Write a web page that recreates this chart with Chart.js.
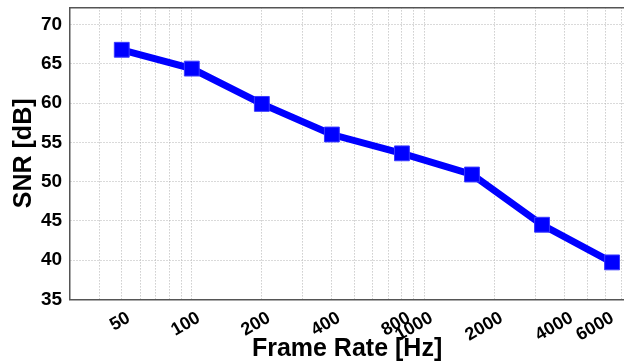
<!DOCTYPE html>
<html>
<head>
<meta charset="utf-8">
<script src="https://cdn.jsdelivr.net/npm/chart.js@4/dist/chart.umd.min.js"></script>
<style>
  body { margin: 0; background: #fff; }
  /* el grafico original esta recortado arriba y a la derecha */
  #wrap { width: 624px; height: 362px; overflow: hidden; position: relative; }
  #grafico { position: absolute; left: 0; top: -12px; }
</style>
</head>
<body>
<div id="wrap"><canvas id="grafico" width="640" height="374"></canvas></div>
<script>
// datos
var frameRate = [50, 100, 200, 400, 800, 1600, 3200, 6400]; // Hz
var snr = [66.8, 64.4, 59.9, 56.0, 53.6, 50.9, 44.5, 39.7]; // dB
var xTickLabels = [50, 100, 200, 400, 800, 1000, 2000, 4000, 6000];
var yTicks = [35, 40, 45, 50, 55, 60, 65, 70];

// lineas de rejilla logaritmicas (1..9 por decada)
var xGrid = [];
for (var dec = 10; dec <= 1000; dec *= 10) {
    for (var k = 1; k <= 9; k++) {
        var v = k * dec;
        if (v > 30 && v < 7200) xGrid.push(v);
    }
}

var fuente = "'Liberation Sans', Arial, sans-serif";

var puntos = [];
for (var i = 0; i < frameRate.length; i++) {
    puntos.push({x: frameRate[i], y: snr[i]});
}

var ctx = document.getElementById('grafico').getContext('2d');
var chart = new Chart(ctx, {
    type: 'line',
    data: {
        datasets: [{
            label: 'SNR',
            data: puntos,
            borderColor: '#0000ff',
            borderWidth: 7,
            backgroundColor: '#0000ff',
            pointStyle: 'rect',
            pointRadius: 10.5,
            pointBorderColor: '#3a3aff',
            pointBorderWidth: 1,
            pointBackgroundColor: '#0000ff',
            tension: 0
        }]
    },
    options: {
        responsive: false,
        animation: false,
        layout: { padding: { left: 0, top: 0, right: 0, bottom: 0 } },
        plugins: { legend: { display: false }, tooltip: { enabled: false } },
        scales: {
            x: {
                type: 'logarithmic',
                position: 'bottom',
                min: 30,
                max: 7200,
                afterBuildTicks: function(axis) {
                    axis.ticks = xGrid.map(function(v) { return {value: v}; });
                },
                ticks: {
                    autoSkip: false,
                    maxRotation: 30,
                    minRotation: 30,
                    labelOffset: 7,
                    padding: 8,
                    color: '#000',
                    font: { family: fuente, size: 18, weight: 'bold' },
                    callback: function(value) {
                        return xTickLabels.indexOf(value) >= 0 ? String(value) : '';
                    }
                },
                grid: { color: '#b4b4b4', lineWidth: 1, drawTicks: false },
                border: { display: true, color: '#555', width: 1.5, dash: [1, 2] },
                title: {
                    display: true,
                    text: 'Frame Rate [Hz]',
                    color: '#000',
                    font: { family: fuente, size: 25, weight: 'bold' },
                    padding: { top: -20, bottom: -2 }
                }
            },
            x2: {
                type: 'logarithmic',
                position: 'top',
                min: 30,
                max: 7200,
                ticks: { display: false },
                grid: { display: false, drawTicks: false },
                border: { display: true, color: '#555', width: 1.5 }
            },
            y: {
                type: 'linear',
                min: 35,
                max: 72.2,
                afterBuildTicks: function(axis) {
                    axis.ticks = yTicks.map(function(v) { return {value: v}; });
                },
                ticks: {
                    padding: 8,
                    color: '#000',
                    font: { family: fuente, size: 19, weight: 'bold' }
                },
                grid: { color: '#b4b4b4', lineWidth: 1, drawTicks: false },
                border: { display: true, color: '#555', width: 1.5, dash: [1, 2] },
                title: {
                    display: true,
                    text: 'SNR [dB]',
                    color: '#000',
                    font: { family: fuente, size: 25, weight: 'bold' },
                    padding: { top: 9, bottom: -6 }
                }
            }
        }
    }
});
</script>
</body>
</html>
